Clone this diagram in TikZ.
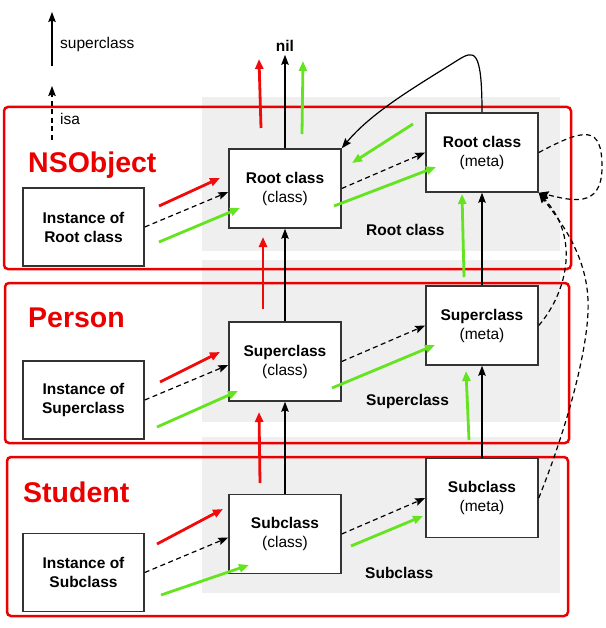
\documentclass[tikz,border=0pt]{standalone}
\usepackage{fontspec}
\setmainfont{Liberation Sans}
\usetikzlibrary{positioning, arrows.meta}
\definecolor{arrred}{RGB}{240,10,10}
\definecolor{arrgreen}{RGB}{100,228,30}
\definecolor{panelgray}{RGB}{239,239,239}
\definecolor{boxred}{RGB}{235,0,0}

\begin{document}
\begin{tikzpicture}[
    x=1pt, y=-1pt,
    >={Stealth[length=10pt, width=7.5pt, inset=1.5pt]},
    on grid,
    cls/.style={draw=black!80, line width=1.5pt, fill=white, minimum width=112pt, minimum height=79pt, align=center, inner sep=0pt, font=\fontsize{15.5}{19}\selectfont},
    inst/.style={cls, minimum width=121pt, minimum height=78pt, font=\fontsize{15.5}{19}\selectfont\bfseries},
    grp/.style={draw=boxred, line width=2.5pt, rounded corners=4pt},
    grplabel/.style={text=boxred, anchor=west, inner sep=0pt, font=\fontsize{28.5}{30}\selectfont\bfseries},
    lbl/.style={anchor=west, inner sep=0pt, font=\fontsize{15.5}{19}\selectfont\bfseries},
    legend/.style={anchor=west, inner sep=0pt, font=\fontsize{15.5}{19}\selectfont},
    sup/.style={->, line width=1.2pt},
    isa/.style={->, line width=1.2pt, dash pattern=on 5pt off 3.5pt},
    redarr/.style={draw=arrred, line width=2.8pt, -{Triangle[length=10pt, width=8pt]}},
    greenarr/.style={draw=arrgreen, line width=2.8pt, -{Triangle[length=10pt, width=8pt]}}
]
\useasboundingbox (0,0) rectangle (605,628);

% 灰色底板
\fill[panelgray] (202,97) rectangle (560,251);
\fill[panelgray] (202,260) rectangle (560,422);
\fill[panelgray] (202,437) rectangle (560,593);

% 红色分组框
\draw[grp] (4,107) rectangle (571,269);
\draw[grp] (5,283) rectangle (569,443);
\draw[grp] (7,457) rectangle (568,616);
\node[grplabel] (nso) at (28,165) {NSObject};
\node[grplabel] (person) at (28,318) {Person};
\node[grplabel] (student) at (23,492) {Student};

% 图例
\coordinate (supfrom) at (52,66);
\coordinate (supto) at (52,12);
\coordinate (isafrom) at (52,140);
\coordinate (isato) at (52,86);
\draw[sup] (supfrom) -- (supto);
\draw[isa] (isafrom) -- (isato);
\node[legend] (suplbl) at (60,44) {superclass};
\node[legend] (isalbl) at (60,119) {isa};

% 类节点
\node[cls] (rclass) at (285,188.5) {\textbf{Root class}\\(class)};
\node[cls, above right=36pt and 197pt of rclass] (rmeta) {\textbf{Root class}\\(meta)};
\node[cls, below=173pt of rclass] (sclass) {\textbf{Superclass}\\(class)};
\node[cls, below=173pt of rmeta] (smeta) {\textbf{Superclass}\\(meta)};
\node[cls, below=172.5pt of sclass] (bclass) {\textbf{Subclass}\\(class)};
\node[cls, below=172.5pt of smeta] (bmeta) {\textbf{Subclass}\\(meta)};

% 实例节点
\node[inst, below left=38.5pt and 201.5pt of rclass] (rinst) {Instance of\\Root class};
\node[inst, below left=38.5pt and 201.5pt of sclass] (sinst) {Instance of\\Superclass};
\node[inst, below left=38.5pt and 201.5pt of bclass] (binst) {Instance of\\Subclass};

% 文字标签
\node[lbl] (rlbl) at (366,230) {Root class};
\node[lbl] (slbl) at (366,401) {Superclass};
\node[lbl] (blbl) at (365,573) {Subclass};
\node[font=\fontsize{15.5}{19}\selectfont\bfseries, inner sep=3pt] (nil) at (285,46) {nil};

% superclass
\draw[sup] (rclass) -- (nil);
\draw[sup] (sclass) -- (rclass);
\draw[sup] (bclass) -- (sclass);
\draw[sup] (smeta) -- (rmeta);
\draw[sup] (bmeta) -- (smeta);
\draw[sup] (rmeta.north) .. controls (482,48) and (474,50) .. (458,60)
    .. controls (415,87) and (372,112) .. (rclass.north east);

% isa
\draw[isa] (rinst.east) -- ([yshift=-3.5pt]rclass.west);
\draw[isa] (sinst.east) -- ([yshift=-3.5pt]sclass.west);
\draw[isa] (binst.east) -- ([yshift=-3.5pt]bclass.west);
\draw[isa] (rclass.east) -- (rmeta.west);
\draw[isa] (sclass.east) -- (smeta.west);
\draw[isa] (bclass.east) -- (bmeta.west);
\draw[isa] (rmeta.east) .. controls (585,128) and (602,125) .. (602,167)
    .. controls (602,210) and (570,200) .. (rmeta.south east);
\draw[isa] (smeta.east) .. controls (565,295) and (582,240) .. (rmeta.south east);
\draw[isa] (bmeta.east) .. controls (570,420) and (590,340) .. (588,300)
    .. controls (586,250) and (555,215) .. (rmeta.south east);

% 红绿箭头
\draw[redarr] (261,128) -- (259,59);
\draw[greenarr] (302,134) -- (303,61);
\draw[redarr] (159,206) -- (220,178);
\draw[greenarr] (159,242) -- (240,208);
\draw[greenarr] (413,124) -- (352,163);
\draw[greenarr] (334,206) -- (436,167);
\draw[redarr] (263,309) -- (263,237);
\draw[greenarr] (464,277) -- (462,194);
\draw[redarr] (160,382) -- (220,352);
\draw[greenarr] (157,427) -- (238,391);
\draw[greenarr] (332,388) -- (435,345);
\draw[redarr] (260,483) -- (259,412);
\draw[greenarr] (469,440) -- (466,371);
\draw[redarr] (157,544) -- (223,509);
\draw[greenarr] (161,595) -- (249,565);
\draw[greenarr] (351,546) -- (423,516);

\end{tikzpicture}
\end{document}
